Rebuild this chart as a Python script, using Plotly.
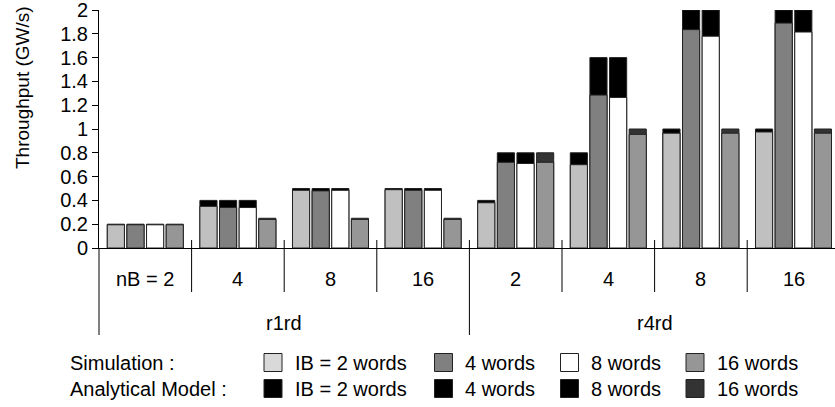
import plotly.graph_objects as go

# ---- data ----
groups = ["nB = 2", "4", "8", "16", "2", "4", "8", "16"]
sections = ["r1rd", "r4rd"]
series_names = ["IB = 2 words", "4 words", "8 words", "16 words"]
y_ticks = [0, 0.2, 0.4, 0.6, 0.8, 1, 1.2, 1.4, 1.6, 1.8, 2]
y_tick_labels = ["0", "0.2", "0.4", "0.6", "0.8", "1", "1.2", "1.4", "1.6", "1.8", "2"]

sim_ib2 = [0.195, 0.35, 0.485, 0.49, 0.38, 0.70, 0.965, 0.975]
sim_ib4 = [0.195, 0.34, 0.48, 0.485, 0.72, 1.285, 1.835, 1.89]
sim_ib8 = [0.195, 0.34, 0.485, 0.485, 0.71, 1.265, 1.78, 1.815]
sim_ib16 = [0.195, 0.24, 0.24, 0.24, 0.72, 0.955, 0.965, 0.965]

model_ib2 = [0.2, 0.4, 0.5, 0.5, 0.4, 0.8, 1.0, 1.0]
model_ib4 = [0.2, 0.4, 0.5, 0.5, 0.8, 1.6, 2.0, 2.0]
model_ib8 = [0.2, 0.4, 0.5, 0.5, 0.8, 1.6, 2.0, 2.0]
model_ib16 = [0.2, 0.25, 0.25, 0.25, 0.8, 1.0, 1.0, 1.0]

sim = [sim_ib2, sim_ib4, sim_ib8, sim_ib16]
model = [model_ib2, model_ib4, model_ib8, model_ib16]

# ---- style ----
FONT = "Liberation Sans, Arial, sans-serif"
sim_colors = ["#c0c0c0", "#808080", "#ffffff", "#969696"]
sim_legend_colors = ["#d9d9d9", "#808080", "#ffffff", "#969696"]
model_colors = ["#000000", "#000000", "#000000", "#333333"]
offsets = [-0.318, -0.106, 0.106, 0.318]
bar_w = 0.185

W, H = 835, 407
ML, MR, MT, MB = 99, 0, 10, 159
PW = W - ML - MR
PH = H - MT - MB
XMIN = -0.5
XMAX = XMIN + PW / 92.6

def px_x(px):
    return (px - ML) / PW

def px_y(py):
    return (H - MB - py) / PH

fig = go.Figure()
n = len(groups)
for i in range(4):
    xs = [g + offsets[i] for g in range(n)]
    fig.add_trace(go.Bar(
        x=xs, y=model[i], width=bar_w,
        marker=dict(color=model_colors[i], line=dict(color="#222222", width=1)),
        showlegend=False, hoverinfo="y"))
for i in range(4):
    xs = [g + offsets[i] for g in range(n)]
    fig.add_trace(go.Bar(
        x=xs, y=sim[i], width=bar_w,
        marker=dict(color=sim_colors[i], line=dict(color="#222222", width=1)),
        showlegend=False, hoverinfo="y"))

shapes = []
annotations = []

def gx(k):
    # paper x of group boundary k
    return (k - 0.5 - XMIN) / (XMAX - XMIN)

top_ext = px_y(H - MB - 8)
for k in range(n + 1):
    long = (k % 4 == 0)
    y1 = px_y(335) if long else px_y(292)
    shapes.append(dict(type="line", xref="paper", yref="paper",
                       x0=gx(k), x1=gx(k), y0=top_ext if k > 0 else 0, y1=y1,
                       line=dict(color="#000000", width=1)))

for g, lab in enumerate(groups):
    annotations.append(dict(x=(g - XMIN) / (XMAX - XMIN), y=px_y(279), xref="paper", yref="paper",
                            text=lab, showarrow=False, xanchor="center", yanchor="middle",
                            font=dict(family=FONT, size=20, color="#000")))
for s, lab in enumerate(sections):
    cx = (s * 4 + 1.5 - XMIN) / (XMAX - XMIN)
    annotations.append(dict(x=cx, y=px_y(323), xref="paper", yref="paper",
                            text=lab, showarrow=False, xanchor="center", yanchor="middle",
                            font=dict(family=FONT, size=20, color="#000")))

# y-axis title
annotations.append(dict(x=px_x(23), y=px_y(88), xref="paper", yref="paper",
                        text="Throughput (GW/s)", textangle=-90, showarrow=False,
                        xanchor="center", yanchor="middle",
                        font=dict(family=FONT, size=19, color="#000")))

# custom legend
row_y = [362.5, 388.5]
row_titles = ["Simulation :", "Analytical Model :"]
box_left = [264, 434.5, 560.5, 686]
text_left = [293, 463, 589, 715]
box_size = 18
for r in range(2):
    annotations.append(dict(x=px_x(68), y=px_y(row_y[r]), xref="paper", yref="paper",
                            text=row_titles[r], showarrow=False, xanchor="left", yanchor="middle",
                            font=dict(family=FONT, size=20, color="#000")))
    cols = sim_legend_colors if r == 0 else model_colors
    for i in range(4):
        shapes.append(dict(type="rect", xref="paper", yref="paper",
                           x0=px_x(box_left[i]), x1=px_x(box_left[i] + box_size),
                           y0=px_y(row_y[r] + box_size / 2), y1=px_y(row_y[r] - box_size / 2),
                           fillcolor=cols[i], line=dict(color="#222222", width=1)))
        annotations.append(dict(x=px_x(text_left[i]), y=px_y(row_y[r]), xref="paper", yref="paper",
                                text=series_names[i], showarrow=False, xanchor="left", yanchor="middle",
                                font=dict(family=FONT, size=20, color="#000")))

fig.update_layout(
    width=W, height=H,
    margin=dict(l=ML, r=MR, t=MT, b=MB, pad=0, autoexpand=False),
    barmode="overlay",
    plot_bgcolor="#ffffff", paper_bgcolor="#ffffff",
    shapes=shapes, annotations=annotations,
    showlegend=False,
    font=dict(family=FONT, size=20, color="#000"),
)
fig.update_xaxes(range=[XMIN, XMAX], showticklabels=False, showgrid=False, zeroline=False,
                 showline=True, linecolor="#000", linewidth=1, ticks="", fixedrange=True,
                 automargin=False)
fig.update_yaxes(range=[0, 2.0001], tickmode="array", tickvals=y_ticks, ticktext=y_tick_labels,
                 showgrid=False, zeroline=False, ticklabeloverflow="allow",
                 showline=True, linecolor="#000", linewidth=1, ticks="outside", ticklen=6,
                 tickcolor="#000", tickfont=dict(family=FONT, size=20, color="#000"),
                 automargin=False, fixedrange=True)

fig.write_html("out.html",
               config={"displayModeBar": False, "staticPlot": True},
               post_script="document.body.style.margin='0';document.body.style.overflow='hidden';")
